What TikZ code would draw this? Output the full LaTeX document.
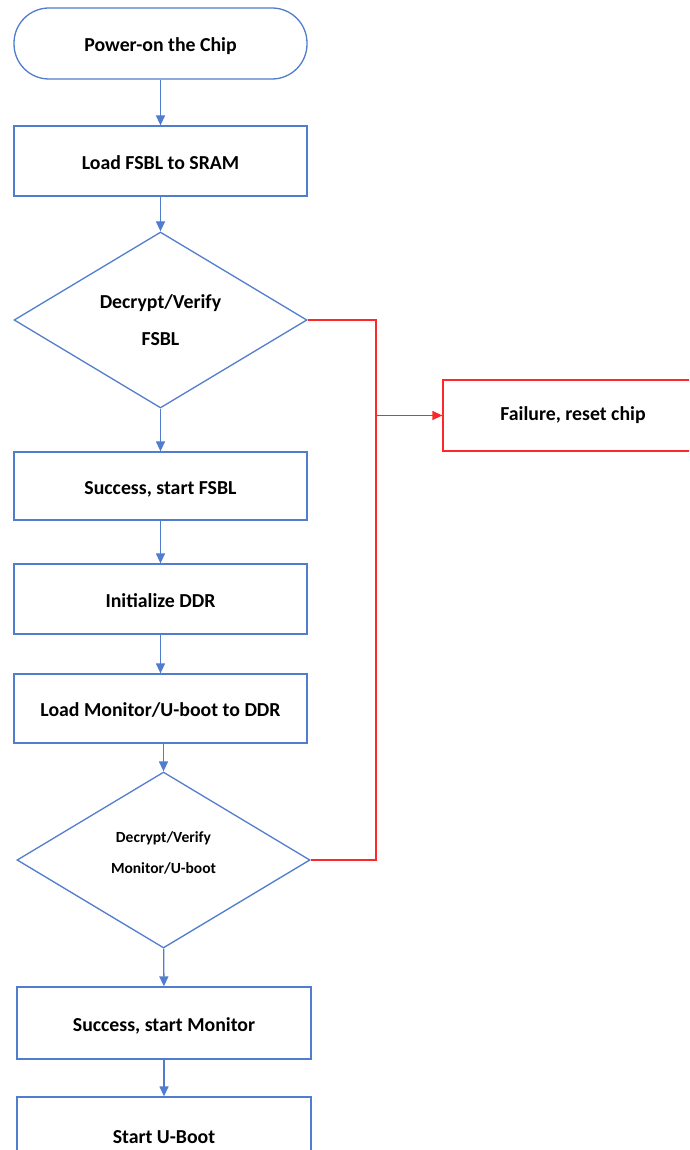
\documentclass[tikz,border=0pt]{standalone}
\usepackage{fontspec}
\setmainfont{Carlito}
\usetikzlibrary{shapes.geometric,arrows.meta}
\definecolor{fblue}{RGB}{80,125,205}
\definecolor{fred}{RGB}{255,40,40}
\tikzset{
  x=1pt,y=1pt,
  base/.style={draw=fblue,line width=1.3pt,inner sep=0pt,font=\bfseries\fontsize{19.8}{23}\selectfont,text=black,align=center},
  procbox/.style={base,rectangle,minimum width=293pt,text height=16.6pt,text depth=0pt},
  termbox/.style={base,rectangle,rounded corners=35pt,minimum width=293pt,minimum height=71pt,text height=16.6pt,text depth=0pt},
  decbox/.style={base,diamond,minimum width=293pt,minimum height=176pt},
  failbox/.style={base,draw=fred,rectangle},
  tip/.style={-{Triangle[length=10pt,width=9pt]}},
  flow/.style={draw=fblue,line width=1.3pt,tip},
  failflow/.style={draw=fred,line width=1.3pt},
}
\begin{document}
\begin{tikzpicture}
\clip (0,0) rectangle (689,-1150);
\fill[white] (0,0) rectangle (689,-1150);
\node[termbox] (term) at (160.5,-43.5) {Power-on the Chip};
\node[procbox,minimum height=70pt] (load) at (160.5,-161) {Load FSBL to SRAM};
\node[decbox] (dec1) at (160.5,-320) {Decrypt/Verify\\[14pt]FSBL};
\node[procbox,minimum height=68pt] (succ1) at (160.5,-486) {Success, start FSBL};
\node[procbox,minimum height=70pt] (ddr) at (160.5,-599) {Initialize DDR};
\node[procbox,minimum height=69pt] (loadmon) at (160.5,-708.5) {Load Monitor/U-boot to DDR};
\node[decbox,font=\bfseries\fontsize{15.5}{18}\selectfont,text depth=14pt] (dec2) at (163.5,-860) {Decrypt/Verify\\[13pt]Monitor/U-boot};
\node[procbox,minimum width=294pt,minimum height=72pt] (succ2) at (164,-1023) {Success, start Monitor};
\node[procbox,minimum width=294pt,minimum height=76pt] (uboot) at (164,-1135) {Start U-Boot};
\node[failbox,minimum width=260pt,minimum height=71pt] (fail) at (573,-415.5) {Failure, reset chip};
\coordinate (j) at (376,-415.5);
\draw[flow] (term) -- (load);
\draw[flow] (load) -- (dec1);
\draw[flow] (dec1) -- (succ1);
\draw[flow] (succ1) -- (ddr);
\draw[flow] (ddr) -- (loadmon);
\draw[flow] (loadmon.south -| dec2.north) -- (dec2.north);
\draw[flow] (dec2) -- (succ2);
\draw[flow] (succ2) -- (uboot);
\draw[failflow] (dec1.east) -| (j);
\draw[failflow] (dec2.east) -| (j);
\draw[failflow,tip] (j) -- (fail.west);
\end{tikzpicture}
\end{document}
